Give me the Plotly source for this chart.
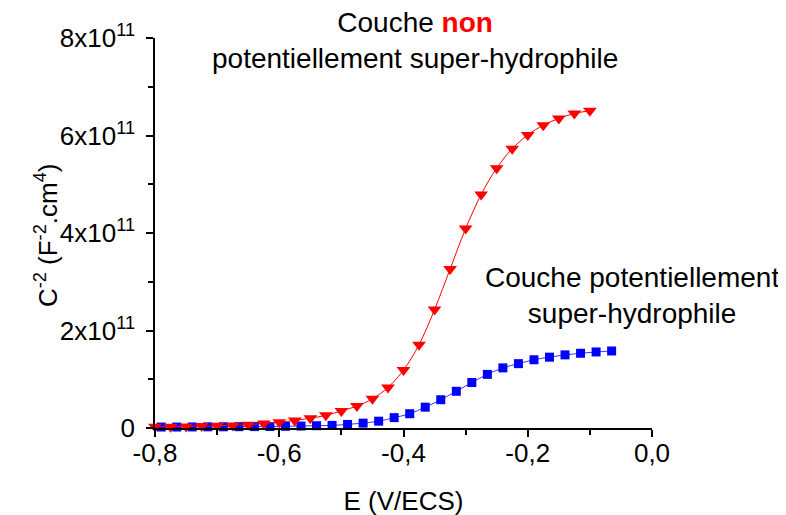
import plotly.graph_objects as go

# Red series: "Couche non potentiellement super-hydrophile"
red_x = [round(-0.8 + 0.025 * i, 3) for i in range(29)]
red_y = [0.027e11, 0.027e11, 0.033e11, 0.040e11, 0.047e11, 0.053e11, 0.067e11, 0.093e11,
         0.12e11, 0.155e11, 0.20e11, 0.26e11, 0.35e11, 0.45e11, 0.60e11, 0.83e11, 1.19e11,
         1.71e11, 2.43e11, 3.26e11, 4.09e11, 4.79e11, 5.33e11, 5.73e11, 6.01e11, 6.21e11,
         6.35e11, 6.45e11, 6.51e11]

# Blue series: "Couche potentiellement super-hydrophile"
blue_x = [round(-0.79 + 0.025 * i, 3) for i in range(30)]
blue_y = [0.020e11, 0.020e11, 0.022e11, 0.024e11, 0.025e11, 0.027e11, 0.029e11, 0.031e11,
          0.035e11, 0.040e11, 0.047e11, 0.053e11, 0.073e11, 0.10e11, 0.14e11, 0.213e11,
          0.293e11, 0.427e11, 0.58e11, 0.753e11, 0.933e11, 1.10e11, 1.233e11, 1.32e11,
          1.40e11, 1.453e11, 1.50e11, 1.533e11, 1.56e11, 1.58e11]

x_tickvals = [-0.8, -0.6, -0.4, -0.2, 0.0]
x_ticktext = ["-0,8", "-0,6", "-0,4", "-0,2", "0,0"]
y_tickvals = [0, 2e11, 4e11, 6e11, 8e11]
y_ticktext = ["0", "2x10<sup>11</sup>", "4x10<sup>11</sup>", "6x10<sup>11</sup>", "8x10<sup>11</sup>"]

FONT = "Liberation Sans, Arial, sans-serif"
FS = 26
FS_ANN = 28

fig = go.Figure()
fig.add_trace(go.Scatter(
    x=blue_x, y=blue_y, mode="lines+markers",
    line=dict(color="#3333ff", width=1, shape="spline"),
    marker=dict(symbol="square", size=9, color="#0000ff"),
    cliponaxis=False, showlegend=False))
fig.add_trace(go.Scatter(
    x=red_x, y=red_y, mode="lines+markers",
    line=dict(color="#ff0000", width=1, shape="spline"),
    marker=dict(symbol="triangle-down", size=12, color="#ff0000"),
    cliponaxis=False, showlegend=False))

axis_common = dict(
    showgrid=False, zeroline=False, showline=True, linecolor="black", linewidth=1.5,
    ticks="outside", ticklen=7, tickwidth=1.5, tickcolor="black",
    tickfont=dict(family=FONT, size=FS, color="black"), automargin=True,
)

fig.update_xaxes(
    range=[-0.8, 0.0], tickvals=x_tickvals, ticktext=x_ticktext,
    minor=dict(dtick=0.1, tick0=-0.8, ticks="outside", ticklen=5, tickwidth=1.5, tickcolor="black"),
    ticklabelstandoff=-6,
    title=dict(text="E (V/ECS)", font=dict(family=FONT, size=FS, color="black"), standoff=25),
    **axis_common)
fig.update_yaxes(
    range=[0, 8e11], tickvals=y_tickvals, ticktext=y_ticktext,
    minor=dict(dtick=1e11, tick0=0, ticks="outside", ticklen=5, tickwidth=1.5, tickcolor="black"),
    ticklabelstandoff=6,
    **axis_common)

# y-axis title as a rotated annotation for exact placement
fig.add_annotation(
    x=-0.217, y=0.495, xref="paper", yref="paper", xanchor="center", yanchor="middle",
    text="C<sup>-2</sup> (F<sup>-2</sup>.cm<sup>4</sup>)", textangle=-90,
    showarrow=False, font=dict(family=FONT, size=FS, color="black"))

fig.add_annotation(
    x=0.523, y=0.9925, xref="paper", yref="paper", xanchor="center", yanchor="middle",
    text="Couche <b><span style='color:#ff0000'>non</span></b><br>potentiellement super-hydrophile",
    showarrow=False, align="center", font=dict(family=FONT, size=FS_ANN, color="black"))
fig.add_annotation(
    x=0.96, y=0.34, xref="paper", yref="paper", xanchor="center", yanchor="middle",
    text="Couche potentiellement<br>super-hydrophile",
    showarrow=False, align="center", font=dict(family=FONT, size=FS_ANN, color="black"))

# page body has an 8px default margin; compensate so the plot area lands at
# x 155..652, y 28..428 in the window
fig.update_layout(
    width=786, height=515,
    margin=dict(l=147, r=142, t=20, b=95),
    paper_bgcolor="white", plot_bgcolor="white",
    font=dict(family=FONT, size=FS, color="black"),
)

fig.write_html("out.html")
